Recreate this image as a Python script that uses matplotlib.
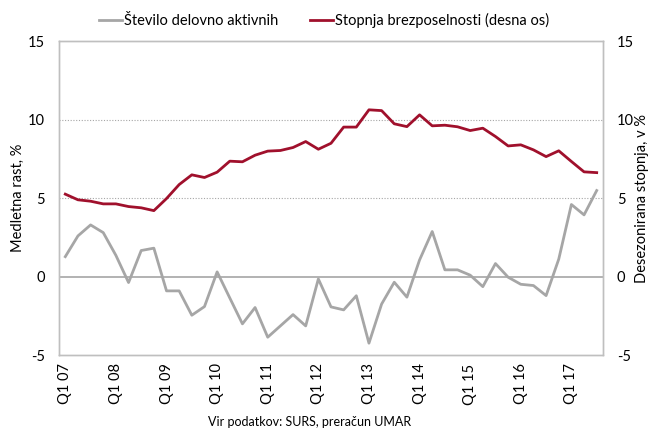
import numpy as np
import matplotlib.pyplot as plt

plt.rcParams['font.family'] = ['Lato', 'DejaVu Sans']
plt.rcParams['axes.unicode_minus'] = False

# ---------------- Data ----------------
# quarters Q1 2007 .. Q3 2017
quarters = [f"Q{q} {y:02d}" for y in range(7, 18) for q in range(1, 5)][:43]

employment = [1.27, 2.59, 3.29, 2.80, 1.35, -0.38, 1.66, 1.81, -0.91, -0.91,
              -2.46, -1.91, 0.30, -1.36, -3.01, -1.97, -3.86, -3.14, -2.42, -3.14,
              -0.15, -1.93, -2.12, -1.22, -4.24, -1.75, -0.36, -1.31, 1.06, 2.87,
              0.43, 0.43, 0.09, -0.64, 0.83, -0.04, -0.49, -0.57, -1.21, 1.11,
              4.59, 3.93, 5.48]

unemployment = [5.25, 4.89, 4.80, 4.63, 4.63, 4.46, 4.38, 4.20, 4.97, 5.86,
                6.48, 6.31, 6.65, 7.35, 7.31, 7.73, 7.99, 8.03, 8.22, 8.60,
                8.11, 8.49, 9.52, 9.52, 10.62, 10.57, 9.73, 9.55, 10.30, 9.60,
                9.64, 9.54, 9.30, 9.45, 8.92, 8.32, 8.39, 8.07, 7.64, 8.01,
                7.33, 6.67, 6.62]

GRAY = "#a6a6a6"
RED = "#a0102c"
FRAME = "#bfbfbf"

fig = plt.figure(figsize=(6.48, 4.32), dpi=100)
ax = fig.add_axes([0.091, 0.178, 0.8396, 0.727])
ax2 = ax.twinx()

x = np.arange(len(quarters))
ax.plot(x, employment, color=GRAY, lw=2, label="Število delovno aktivnih", zorder=3)
ax2.plot(x, unemployment, color=RED, lw=2, label="Stopnja brezposelnosti (desna os)", zorder=3)

for a in (ax, ax2):
    a.set_ylim(-5, 15)
    a.set_yticks([-5, 0, 5, 10, 15])
    a.set_xlim(-0.5, len(quarters) - 0.5)
    a.tick_params(length=0, labelsize=10.5, colors="black")
    for s in a.spines.values():
        s.set_color(FRAME)
        s.set_linewidth(1)

# gridlines
for v in (5, 10):
    ax.axhline(v, color=GRAY, lw=0.8, ls=(0, (1, 1.5)), zorder=1)
ax.axhline(0, color=GRAY, lw=1.2, zorder=2)
ax.spines['bottom'].set_linestyle((0, (1, 1)))

ax.set_xticks(x[::4])
ax.set_xticklabels(quarters[::4], rotation=90)
ax.tick_params(axis='x', pad=6)
ax.tick_params(axis='y', pad=10)
ax2.tick_params(axis='y', pad=10)

ax.set_ylabel("Medletna rast, %", fontsize=10.5, labelpad=2)
ax2.set_ylabel("Desezonirana stopnja, v %", fontsize=10.5, labelpad=1)

h1, l1 = ax.get_legend_handles_labels()
h2, l2 = ax2.get_legend_handles_labels()
fig.legend(h1 + h2, l1 + l2, loc="upper center", bbox_to_anchor=(0.5, 1.0),
           ncol=2, frameon=False, fontsize=10.5, handlelength=1.6,
           handletextpad=0.1, columnspacing=2.2)

fig.text(0.478, 0.023, "Vir podatkov: SURS, preračun UMAR", ha="center",
         va="center", fontsize=9)

fig.savefig("out.png", dpi=100)
